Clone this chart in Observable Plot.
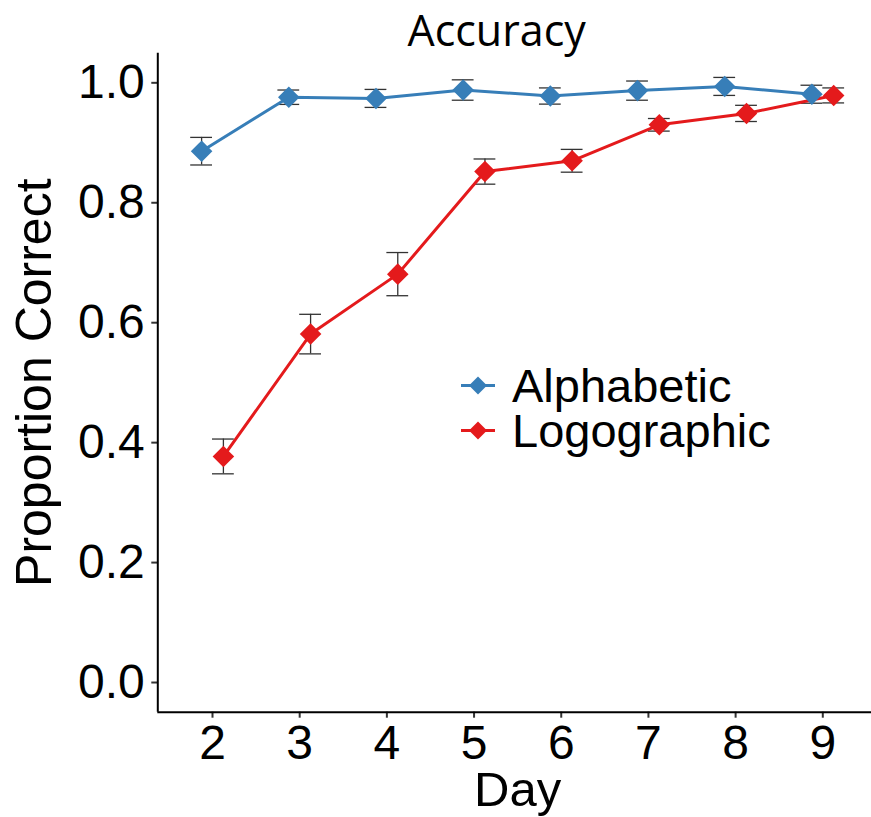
<!DOCTYPE html>
<html>
<head>
<meta charset="utf-8">
<script src="https://cdn.jsdelivr.net/npm/d3@7"></script>
<script src="https://cdn.jsdelivr.net/npm/@observablehq/plot@0.6"></script>
<style>
  html, body { margin: 0; padding: 0; background: #fff; }
  #wrap { position: relative; width: 871px; height: 817px; }
  #legend { position: absolute; left: 461px; top: 363px; font-family: "Liberation Sans", Arial, sans-serif; font-size: 47px; color: #000; }
  .row { display: flex; align-items: center; height: 45px; }
  .row span { display: inline-block; margin-left: 17px; height: 44px; line-height: 44px; overflow: visible; }
</style>
</head>
<body>
<div id="wrap"></div>
<script>
// ---- data ----
const days = [2, 3, 4, 5, 6, 7, 8, 9];
const groups = ["Alphabetic", "Logographic"];
const colors = ["#377EB8", "#E41A1C"];
const alphabeticMean = [0.886, 0.976, 0.974, 0.988, 0.978, 0.987, 0.994, 0.981];
const alphabeticSE   = [0.023, 0.012, 0.015, 0.017, 0.0135, 0.016, 0.015, 0.015];
const logographicMean = [0.377, 0.581, 0.681, 0.852, 0.870, 0.930, 0.949, 0.979];
const logographicSE   = [0.029, 0.033, 0.036, 0.021, 0.019, 0.0105, 0.0135, 0.0125];
const yTicks = [0, 0.2, 0.4, 0.6, 0.8, 1.0];
const titleText = "Accuracy";
const xLabel = "Day";
const yLabel = "Proportion Correct";

// ---- layout ----
const dodge = [-0.125, 0.125];
const capHalf = 0.125;
const xDomain = [1.3726, 9.5586];
const yDomain = [-0.0495, 1.0494];

const rows = [];
[[alphabeticMean, alphabeticSE], [logographicMean, logographicSE]].forEach(([m, se], gi) => {
  days.forEach((d, i) => {
    rows.push({group: groups[gi], day: d, x: d + dodge[gi], mean: m[i], lo: m[i] - se[i], hi: m[i] + se[i]});
  });
});

const font = "Liberation Sans, Arial, sans-serif";
const colorScale = {domain: groups, range: colors};

const chart = Plot.plot({
  width: 871,
  height: 817,
  marginLeft: 157.3,
  marginRight: 0,
  marginTop: 52.7,
  marginBottom: 105.3,
  style: {fontFamily: font, background: "white", color: "black"},
  x: {domain: xDomain},
  y: {domain: yDomain},
  color: colorScale,
  marks: [
    Plot.axisX({ticks: days, tickFormat: d => String(d), tickSize: 6, tickPadding: 7, fontSize: 48, label: null, stroke: "#333", strokeWidth: 2}),
    Plot.axisY({ticks: yTicks, tickFormat: d3.format(".1f"), tickSize: 6, tickPadding: 7, fontSize: 48, label: null, stroke: "#333", strokeWidth: 2}),
    Plot.ruleX([xDomain[0]], {stroke: "black", strokeWidth: 2}),
    Plot.ruleY([yDomain[0]], {stroke: "black", strokeWidth: 2}),
    // error bars
    Plot.ruleX(rows, {x: "x", y1: "lo", y2: "hi", stroke: "#333", strokeWidth: 1.3}),
    Plot.ruleY(rows, {y: "lo", x1: d => d.x - capHalf, x2: d => d.x + capHalf, stroke: "#333", strokeWidth: 1.3}),
    Plot.ruleY(rows, {y: "hi", x1: d => d.x - capHalf, x2: d => d.x + capHalf, stroke: "#333", strokeWidth: 1.3}),
    // lines
    Plot.line(rows, {x: "x", y: "mean", z: "group", stroke: "group", strokeWidth: 3}),
    // points
    Plot.dot(rows, {x: "x", y: "mean", fill: "group", symbol: "diamond2", r: 9.7, stroke: null}),
    // titles
    Plot.text([titleText], {frameAnchor: "top", lineAnchor: "bottom", dy: -7, dx: -18, fontSize: 43, fontFamily: "Open Sans", fill: "black"}),
    Plot.text([xLabel], {frameAnchor: "bottom", lineAnchor: "bottom", dy: 94, dx: 3, fontSize: 49, fill: "black"}),
    Plot.text([yLabel], {frameAnchor: "left", textAnchor: "middle", lineAnchor: "bottom", rotate: -90, dx: -107.3, fontSize: 50, fill: "black"})
  ]
});

const wrap = document.getElementById("wrap");
wrap.appendChild(chart);

// legend
const legend = document.createElement("div");
legend.id = "legend";
groups.forEach((g, i) => {
  const row = document.createElement("div");
  row.className = "row";
  row.innerHTML = `<svg width="34" height="45" style="display:block"><line x1="0" x2="34" y1="22.5" y2="22.5" stroke="${colors[i]}" stroke-width="3"/><path d="M17,13.5L26,22.5L17,31.5L8,22.5Z" fill="${colors[i]}"/></svg><span>${g}</span>`;
  legend.appendChild(row);
});
wrap.appendChild(legend);
</script>
</body>
</html>
